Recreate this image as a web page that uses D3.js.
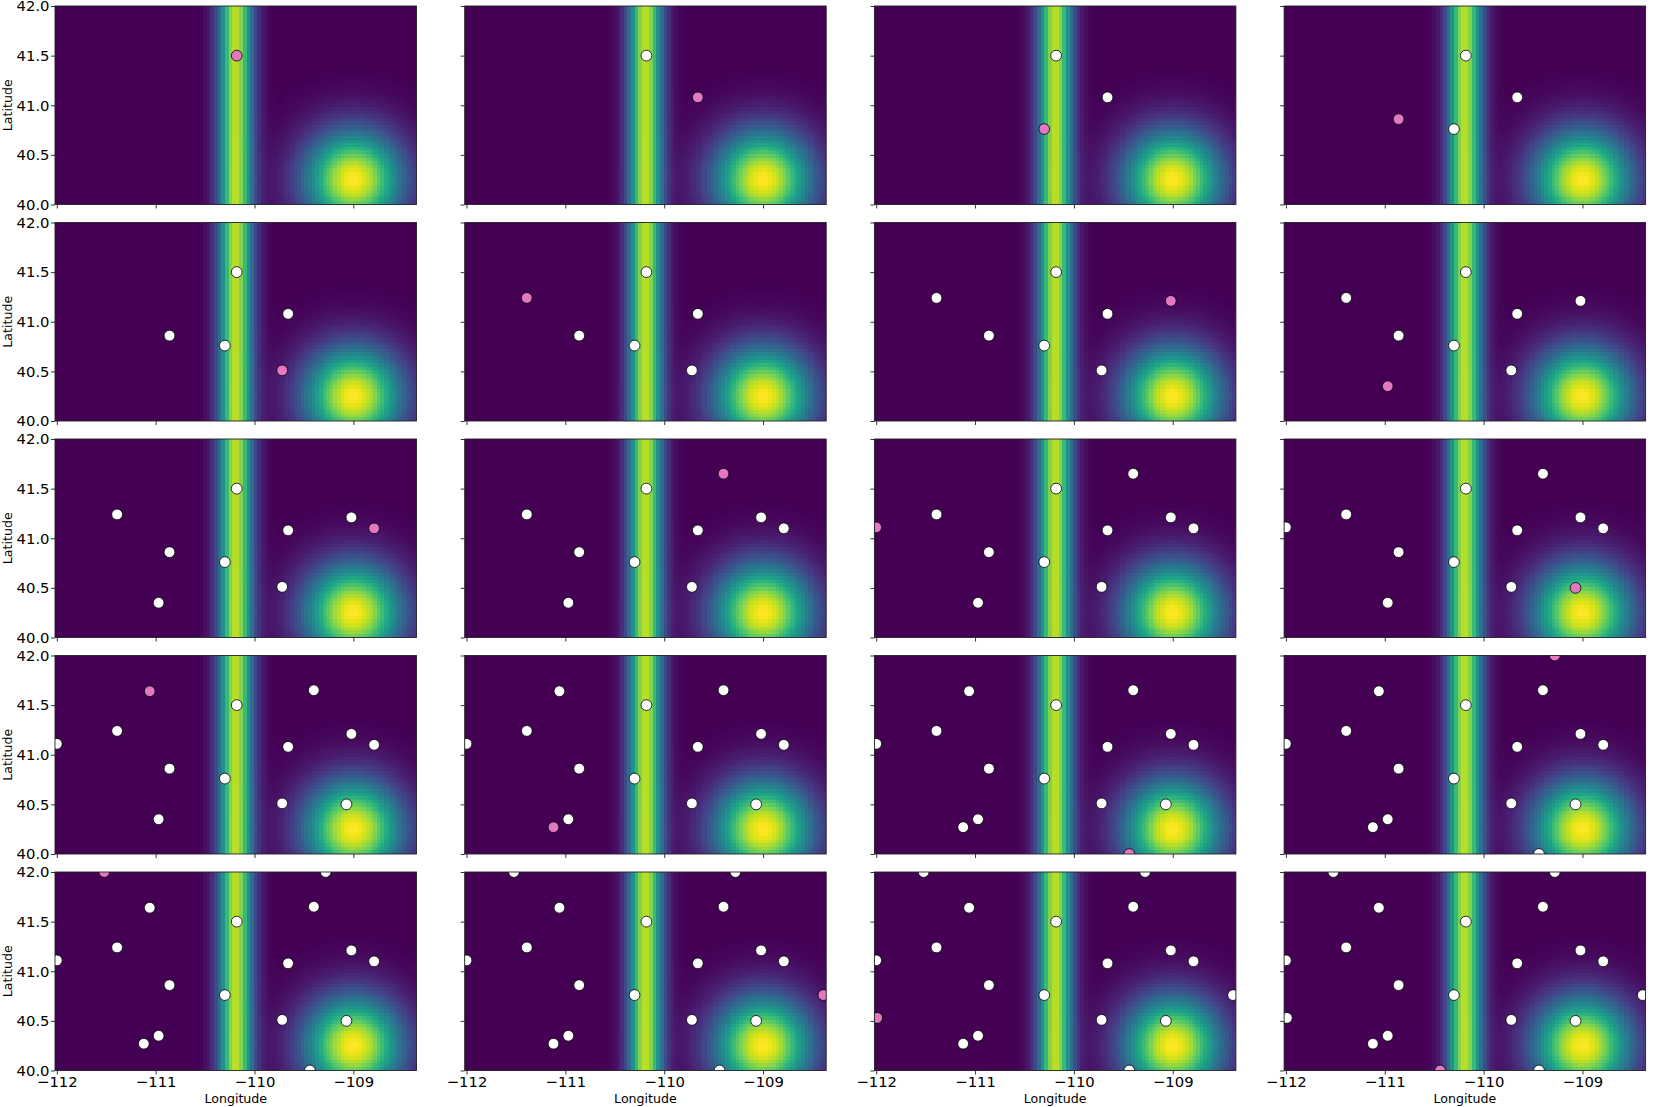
<!DOCTYPE html>
<html>
<head>
<meta charset="utf-8">
<script src="https://cdn.jsdelivr.net/npm/d3@7"></script>
<style>
  html, body { margin: 0; padding: 0; background: #fff; }
  svg text { font-family: "DejaVu Sans", sans-serif; fill: #000; }
  .field { image-rendering: pixelated; }
</style>
</head>
<body>
<svg id="chart" width="1661" height="1107"></svg>
<script>
// sampled locations, in the order they were picked (panel k shows the first k, the last one pink)
const sampleLon = [-110.18, -109.66, -110.30, -110.86, -109.72, -111.39, -109.02, -110.97, -108.79, -109.40,
                   -112.00, -109.07, -111.06, -111.12, -109.44, -109.28, -111.52, -108.39, -111.99, -110.44];
const sampleLat = [41.50, 41.08, 40.76, 40.86, 40.51, 41.24, 41.21, 40.35, 41.10, 41.65,
                   41.11, 40.50, 41.64, 40.27, 40.00, 42.00, 42.00, 40.76, 40.53, 40.00];

const lonTicks = [-112, -111, -110, -109];
const latTicks = [40.0, 40.5, 41.0, 41.5, 42.0];

// background field: a north-south ridge and a round peak (value 0..1)
const ridge = { lon: -110.19, sigma: 0.12, height: 0.9 };
const peak = { lon: -109.0, lat: 40.25, sigma: 0.34, height: 1.0 };
const gridLonStart = -112, gridLonStep = 0.03657, gridCols = 100;
const gridLatMin = 40, gridLatMax = 42, gridRows = 55;

// layout
const nRows = 5, nCols = 4;
const panelW = 361.5, panelH = 198.5;
const left0 = 55, colStep = 409.7;
const top0 = 6, rowStep = 216.5;

const x = d3.scaleLinear().domain([gridLonStart - gridLonStep / 2, gridLonStart + (gridCols - 0.5) * gridLonStep]).range([0, panelW]);
const y = d3.scaleLinear().domain([gridLatMin, gridLatMax]).range([panelH, 0]);

// paint the field once on a small canvas, one pixel per grid cell
const canvas = document.createElement("canvas");
canvas.width = gridCols;
canvas.height = gridRows;
const ctx = canvas.getContext("2d");
for (let j = 0; j < gridRows; j++) {
    const lat = gridLatMax - (j + 0.5) * (gridLatMax - gridLatMin) / gridRows;
    for (let i = 0; i < gridCols; i++) {
        const lon = gridLonStart + i * gridLonStep;
        const dr = lon - ridge.lon;
        const dx = lon - peak.lon, dy = lat - peak.lat;
        let v = ridge.height * Math.exp(-dr * dr / (2 * ridge.sigma * ridge.sigma))
              + peak.height * Math.exp(-(dx * dx + dy * dy) / (2 * peak.sigma * peak.sigma));
        ctx.fillStyle = d3.interpolateViridis(Math.min(v, 1));
        ctx.fillRect(i, j, 1, 1);
    }
}
const fieldUrl = canvas.toDataURL();

const svg = d3.select("#chart");

d3.range(nRows * nCols).forEach(k => {
    const r = Math.floor(k / nCols), c = k % nCols;
    const g = svg.append("g")
        .attr("transform", `translate(${left0 + c * colStep},${top0 + r * rowStep})`);

    g.append("clipPath").attr("id", `clip${k}`)
        .append("rect").attr("width", panelW).attr("height", panelH);

    g.append("image")
        .attr("class", "field")
        .attr("href", fieldUrl)
        .attr("x", x.range()[0])
        .attr("y", y(gridLatMax))
        .attr("width", x.range()[1] - x.range()[0])
        .attr("height", y(gridLatMin) - y(gridLatMax))
        .attr("preserveAspectRatio", "none");

    const pts = d3.range(k + 1).map(i => ({ lon: sampleLon[i], lat: sampleLat[i], last: i === k }));
    g.append("g").attr("clip-path", `url(#clip${k})`)
        .selectAll("circle")
        .data(pts)
        .join("circle")
        .attr("cx", d => x(d.lon))
        .attr("cy", d => y(d.lat))
        .attr("r", 5.4)
        .attr("fill", d => d.last ? "#e377c2" : "#ffffff")
        .attr("stroke", "#000")
        .attr("stroke-width", 0.8);

    // x axis
    const xa = g.append("g")
        .attr("transform", `translate(0,${panelH})`)
        .call(d3.axisBottom(x).tickValues(lonTicks).tickSize(4).tickPadding(2)
            .tickFormat(r === nRows - 1 ? d3.format("d") : ""));
    xa.select(".domain").remove();
    xa.selectAll(".tick line").attr("stroke", "#000").attr("stroke-width", 0.8);
    xa.selectAll(".tick text").style("font-size", "14.8px");

    // y axis
    const ya = g.append("g")
        .call(d3.axisLeft(y).tickValues(latTicks).tickSize(4).tickPadding(1.5)
            .tickFormat(c === 0 ? d3.format(".1f") : ""));
    ya.select(".domain").remove();
    ya.selectAll(".tick line").attr("stroke", "#000").attr("stroke-width", 0.8);
    ya.selectAll(".tick text").style("font-size", "14.8px");

    g.append("rect")
        .attr("width", panelW).attr("height", panelH)
        .attr("fill", "none").attr("stroke", "#222").attr("stroke-width", 0.9);

    if (c === 0) {
        g.append("text")
            .attr("transform", `translate(${8 - left0},${panelH / 2}) rotate(-90)`)
            .attr("text-anchor", "middle")
            .attr("dy", "0.35em")
            .style("font-size", "12.6px")
            .text("Latitude");
    }
    if (r === nRows - 1) {
        g.append("text")
            .attr("x", panelW / 2)
            .attr("y", panelH + 32)
            .attr("text-anchor", "middle")
            .style("font-size", "12.6px")
            .text("Longitude");
    }
});
</script>
</body>
</html>
